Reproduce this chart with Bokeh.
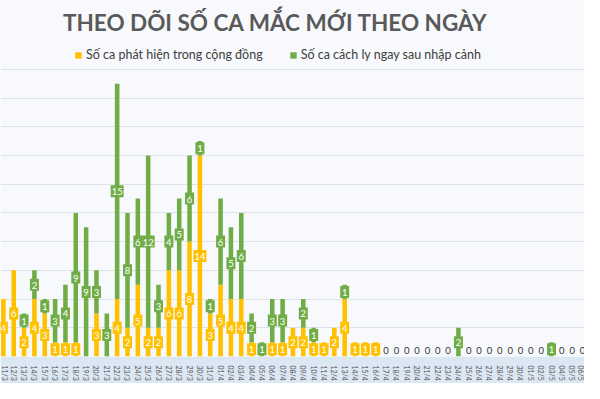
from bokeh.plotting import figure
from bokeh.models import ColumnDataSource, Range1d, FixedTicker, Legend, LegendItem, Label
from bokeh.core.properties import value
from bokeh.embed import file_html
from bokeh.resources import INLINE

# ---- data ----
dates = ["11/3", "12/3", "13/3", "14/3", "15/3", "16/3", "17/3", "18/3", "19/3", "20/3",
         "21/3", "22/3", "23/3", "24/3", "25/3", "26/3", "27/3", "28/3", "29/3", "30/3",
         "31/3", "01/4", "02/4", "03/4", "04/4", "05/4", "06/4", "07/4", "08/4", "09/4",
         "10/4", "11/4", "12/4", "13/4", "14/4", "15/4", "16/4", "17/4", "18/4", "19/4",
         "20/4", "21/4", "22/4", "23/4", "24/4", "25/4", "26/4", "27/4", "28/4", "29/4",
         "30/4", "01/5", "02/5", "03/5", "04/5", "05/5", "06/5"]

community = [4, 6, 2, 4, 3, 1, 1, 1, 0, 3,
             0, 4, 2, 5, 2, 2, 6, 6, 8, 14,
             3, 5, 4, 4, 1, 0, 1, 1, 2, 2,
             1, 1, 2, 4, 1, 1, 1, 0, 0, 0,
             0, 0, 0, 0, 0, 0, 0, 0, 0, 0,
             0, 0, 0, 0, 0, 0, 0]

imported = [0, 0, 1, 2, 1, 3, 4, 9, 9, 3,
            3, 15, 8, 6, 12, 3, 4, 5, 6, 1,
            1, 6, 5, 6, 2, 1, 3, 3, 0, 2,
            1, 0, 0, 1, 0, 0, 0, 0, 0, 0,
            0, 0, 0, 0, 2, 0, 0, 0, 0, 0,
            0, 0, 0, 1, 0, 0, 0]

title_text = "THEO DÕI SỐ CA MẮC MỚI THEO NGÀY"
series_names = ["Số ca phát hiện trong cộng đồng", "Số ca cách ly ngay sau nhập cảnh"]
grid_values = [2, 4, 6, 8, 10, 12, 14, 16, 18, 20]

# ---- style ----
YELLOW = "#FFC000"
GREEN = "#70AD47"
FONT = "Lato"

W, H = 584, 383
AXIS_H = 26
FRAME_H = H - AXIS_H
PX_PER_CASE = 14.4

x = list(range(len(dates)))

p = figure(width=W, height=H, output_backend="svg", toolbar_location=None,
           x_range=Range1d(-0.28, len(dates) - 0.81),
           y_range=Range1d(0, FRAME_H / PX_PER_CASE),
           min_border_left=0, min_border_right=0, min_border_top=0,
           min_border_bottom=AXIS_H)

p.background_fill_color = "#f7f9fc"
p.border_fill_color = "#dbe7f3"
p.outline_line_color = None

src = ColumnDataSource(dict(x=x, community=community, imported=imported))
rs = p.vbar_stack(["community", "imported"], x="x", width=0.44,
                  fill_color=[YELLOW, GREEN], line_color=None, source=src)

# segment labels
lx, ly, lt, lc, lw = [], [], [], [], []
zx, zy, zt = [], [], []
for i, (c, m) in enumerate(zip(community, imported)):
    if c > 0:
        lx.append(i); ly.append(c / 2); lt.append(str(c)); lc.append(YELLOW)
        lw.append(9 if c < 10 else 13)
    if m > 0:
        lx.append(i); ly.append(c + m / 2); lt.append(str(m)); lc.append(GREEN)
        lw.append(9 if m < 10 else 13)
    if c + m == 0:
        zx.append(i); zy.append(0.42); zt.append("0")

lab = ColumnDataSource(dict(x=lx, y=ly, t=lt, c=lc, w=lw))
p.rect(x="x", y="y", width="w", height=12, width_units="screen", height_units="screen",
       fill_color="c", line_color=None, source=lab)
p.text(x="x", y="y", text="t", text_align="center", text_baseline="middle",
       text_color="white", text_font_size="9.5px", text_font=value(FONT), y_offset=0.5,
       source=lab)

zsrc = ColumnDataSource(dict(x=zx, y=zy, t=zt))
p.text(x="x", y="y", text="t", text_align="center", text_baseline="middle",
       text_color="#333333", text_font_size="9.5px", text_font=value(FONT), source=zsrc)

# axes and grid
p.yaxis.visible = False
p.xgrid.visible = False
p.ygrid.ticker = FixedTicker(ticks=grid_values)
p.ygrid.grid_line_color = "#dfe3e8"
p.ygrid.grid_line_width = 1

p.xaxis.ticker = FixedTicker(ticks=x)
p.xaxis.major_label_overrides = {i: d for i, d in enumerate(dates)}
p.xaxis.major_label_orientation = "vertical"
p.xaxis.major_label_text_font_size = "7px"
p.xaxis.major_label_text_font = FONT
p.xaxis.major_label_text_color = "#555555"
p.xaxis.axis_line_color = None
p.xaxis.major_tick_line_color = None
p.xaxis.minor_tick_line_color = None
p.xaxis.major_label_standoff = 3

# title
p.add_layout(Label(x=275, y=FRAME_H - 23, x_units="screen", y_units="screen",
                   text=title_text, text_align="center", text_baseline="middle",
                   text_font=FONT, text_font_style="bold", text_font_size="22.5px",
                   text_color="#595959"))

# legend
legend = Legend(items=[LegendItem(label=series_names[0], renderers=[rs[0]]),
                       LegendItem(label=series_names[1], renderers=[rs[1]])],
                location=(74, FRAME_H - 53 - 10), orientation="horizontal",
                glyph_width=8, glyph_height=8, label_standoff=4, spacing=26,
                label_text_font=FONT, label_text_font_size="12.5px",
                label_text_color="#404040", padding=0, margin=0,
                background_fill_alpha=0, border_line_alpha=0)
p.add_layout(legend)

open("out.html", "w").write(file_html(p, INLINE))
